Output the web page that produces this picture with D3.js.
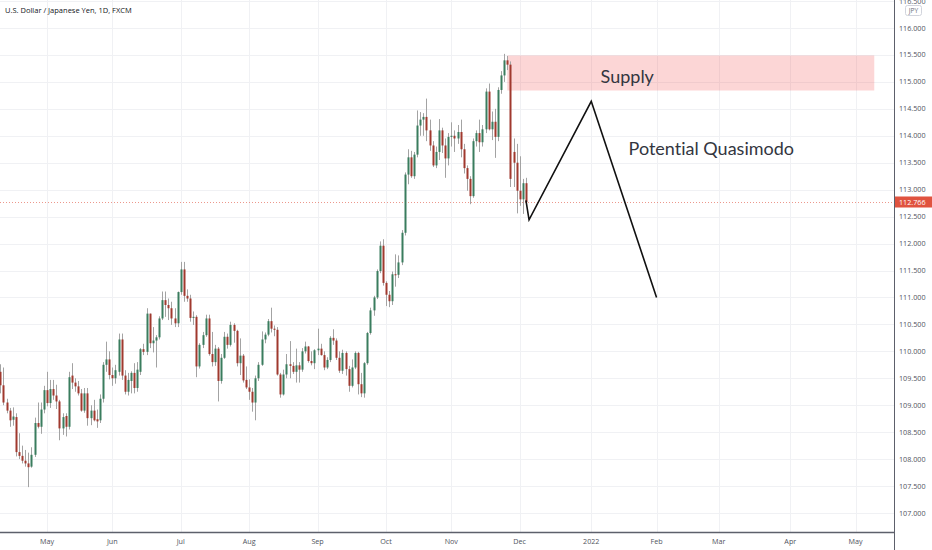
<!DOCTYPE html>
<html lang="en">
<head>
<meta charset="utf-8">
<title>USDJPY 1D</title>
<script src="https://cdn.jsdelivr.net/npm/d3@7"></script>
<style>
  body { margin: 0; background: #fff; }
  svg { display: block; font-family: "Open Sans", sans-serif; }
  text.note { font-variant-ligatures: none; font-feature-settings: "liga" 0; }
</style>
</head>
<body>
<script>
// daily candles, one row per trading day: [open, high, low, close]
var apr21 = [
  [109.62,109.76,109.22,109.37],[109.37,109.70,109.00,109.05],[109.05,109.12,108.85,108.90],
  [108.90,108.95,108.60,108.72],[108.73,108.96,108.62,108.79],[108.78,108.85,108.05,108.13],
  [108.13,108.48,108.00,108.06],[108.06,108.25,107.92,107.97],[107.97,108.17,107.86,107.92],
  [107.92,108.12,107.48,107.85],[107.86,108.22,107.84,108.08],[108.08,108.77,108.04,108.67],
  [108.67,109.05,108.57,108.60],[108.60,109.05,108.47,108.92],[108.92,109.36,108.85,109.28]
];
var may21 = [
  [109.28,109.62,108.98,109.04],[109.04,109.47,108.95,109.30],[109.30,109.47,109.10,109.18],
  [109.18,109.38,108.93,109.07],[109.07,109.10,108.35,108.57],[108.57,108.85,108.45,108.78],
  [108.80,108.85,108.42,108.60],[108.60,109.62,108.55,109.52],[109.55,109.78,109.30,109.42],
  [109.42,109.50,109.25,109.35],[109.35,109.45,109.18,109.22],[109.22,109.30,108.88,108.90],
  [108.90,109.32,108.86,109.22],[109.22,109.32,108.62,108.76],[108.76,109.00,108.63,108.90],
  [108.90,109.10,108.70,108.72],[108.74,108.92,108.58,108.70],[108.72,109.20,108.67,109.12],
  [109.12,109.80,109.05,109.75],[109.75,110.18,109.62,109.85],[109.85,110.00,109.48,109.56]
];
var jun21 = [
  [109.56,109.70,109.36,109.50],[109.50,109.75,109.40,109.65],[109.62,110.33,109.55,110.22],
  [110.22,110.33,109.47,109.55],[109.55,109.65,109.20,109.25],[109.25,109.60,109.18,109.47],
  [109.45,109.63,109.22,109.60],[109.60,109.78,109.22,109.32],[109.32,109.80,109.25,109.66],
  [109.62,110.06,109.56,110.04],[110.04,110.14,109.93,109.99],[109.99,110.80,109.93,110.70],
  [110.70,110.70,110.06,110.15],[110.15,110.45,109.98,110.20],[110.20,110.30,109.70,110.26],
  [110.26,110.65,110.22,110.61],[110.61,111.11,110.58,110.95],[110.95,111.11,110.64,110.86],
  [110.86,110.98,110.58,110.80],[110.80,110.92,110.49,110.61],[110.61,110.80,110.45,110.52],
  [110.52,111.11,110.45,111.10]
];
var jul21 = [
  [111.10,111.66,111.05,111.52],[111.52,111.66,110.92,111.03],[111.03,111.15,110.92,110.98],
  [110.98,111.05,110.55,110.62],[110.62,110.74,110.49,110.64],[110.64,110.67,109.52,109.72],
  [109.72,110.15,109.68,110.12],[110.12,110.36,110.06,110.30],[110.30,110.68,110.27,110.61],
  [110.61,110.68,109.92,109.95],[109.95,110.36,109.72,109.80],[109.80,110.12,109.73,110.05],
  [110.05,110.08,109.07,109.45],[109.45,109.95,109.40,109.88],[109.88,110.36,109.86,110.27],
  [110.27,110.33,110.05,110.12],[110.12,110.55,110.09,110.49],[110.49,110.52,110.16,110.38],
  [110.38,110.40,109.72,109.78],[109.78,110.24,109.56,109.92],[109.92,109.95,109.42,109.46],
  [109.47,109.72,109.30,109.33]
];
var aug21 = [
  [109.33,109.48,109.10,109.25],[109.25,109.32,108.88,109.05],[109.05,109.55,108.72,109.50],
  [109.50,109.80,109.45,109.75],[109.75,110.37,109.73,110.22],[110.22,110.35,110.15,110.31],
  [110.31,110.60,110.28,110.56],[110.56,110.81,110.35,110.42],[110.42,110.48,110.28,110.40],
  [110.40,110.45,109.55,109.57],[109.57,109.60,109.14,109.20],[109.20,109.66,109.18,109.57],
  [109.57,109.95,109.50,109.76],[109.76,110.19,109.50,109.73],[109.73,109.80,109.58,109.62],
  [109.62,110.05,109.42,109.74],[109.74,109.80,109.42,109.66],[109.66,110.06,109.62,110.00],
  [110.00,110.18,109.96,110.09],[110.09,110.10,109.79,109.82],[109.82,110.00,109.74,109.78],
  [109.78,110.04,109.67,110.02]
];
var sep21 = [
  [110.02,110.42,109.93,110.05],[110.05,110.14,109.92,109.93],[109.93,110.00,109.65,109.70],
  [109.70,109.89,109.67,109.84],[109.84,110.28,109.80,110.25],[110.25,110.41,110.12,110.20],
  [110.20,110.24,109.84,109.88],[109.88,110.00,109.60,109.64],[109.64,110.03,109.58,109.97],
  [109.97,110.00,109.55,109.67],[109.67,109.73,109.25,109.36],[109.36,109.85,109.33,109.70],
  [109.70,110.00,109.67,109.97],[109.97,109.99,109.20,109.39],[109.39,109.60,109.15,109.22],
  [109.22,109.80,109.14,109.78],[109.78,110.36,109.75,110.34],[110.34,110.81,110.31,110.76],
  [110.76,111.03,110.66,111.00],[111.00,111.52,110.97,111.49],[111.49,112.04,111.45,111.96],
  [111.96,112.08,111.22,111.27]
];
var oct21 = [
  [111.27,111.30,110.84,111.05],[111.05,111.12,110.82,110.93],[110.93,111.48,110.86,111.43],
  [111.43,111.80,111.20,111.42],[111.42,111.78,111.36,111.65],[111.65,112.25,111.60,112.20],
  [112.20,113.32,112.15,113.28],[113.28,113.75,113.10,113.60],[113.60,113.72,113.22,113.25],
  [113.25,113.70,113.20,113.65],[113.65,114.47,113.60,114.19],[114.19,114.44,114.00,114.30],
  [114.30,114.42,114.00,114.35],[114.35,114.69,113.90,114.10],[114.10,114.30,113.72,113.82],
  [113.82,113.90,113.42,113.45],[113.45,113.80,113.40,113.70],[113.70,114.31,113.55,114.10],
  [114.10,114.15,113.68,113.82],[113.82,113.95,113.22,113.58],[113.58,114.05,113.45,113.98]
];
var nov21 = [
  [113.98,114.25,113.80,114.00],[114.00,114.10,113.70,113.95],[113.95,114.20,113.85,114.07],
  [114.07,114.30,113.60,113.75],[113.75,113.85,113.30,113.40],[113.40,113.45,112.98,113.20],
  [113.20,113.25,112.73,112.88],[112.88,113.95,112.85,113.90],[113.90,114.10,113.80,114.05],
  [114.05,114.30,113.70,113.88],[113.88,114.20,113.80,114.12],[114.12,114.88,114.05,114.82],
  [114.82,114.97,114.10,114.12],[114.12,114.45,113.92,114.26],[114.26,114.50,113.59,113.98],
  [113.98,114.90,113.90,114.85],[114.85,115.20,114.78,115.12],[115.12,115.52,115.00,115.40],
  [115.40,115.48,115.22,115.32],[115.32,115.38,113.05,113.20],[113.70,113.95,113.05,113.50],
  [113.50,113.85,112.56,112.98]
];
var dec21 = [
  [112.98,113.62,112.70,112.82],[112.82,113.20,112.55,113.12],[113.12,113.22,112.72,112.77]
];

var priceTicks = [107, 107.5, 108, 108.5, 109, 109.5, 110, 110.5, 111, 111.5,
                  112, 112.5, 113, 113.5, 114, 114.5, 115, 115.5, 116, 116.5];
var lastPrice = 112.766;

// drawings on the chart
var supplyDates = ["2021-11-25", "2022-05-10"];
var supplyPrices = [115.49, 114.84];
var pathDates = ["2021-12-03", "2021-12-06", "2022-01-03", "2022-02-01"];
var pathPrices = [112.80, 112.44, 114.64, 111.00];
var noteTexts = ["Supply", "Potential Quasimodo"];
var noteDates = ["2022-01-06", "2022-01-19"];
var noteValues = [114.98, 113.64];

var w = 932, h = 550;
var plotRight = 894, plotBottom = 532;

var candles = [].concat(apr21, may21, jun21, jul21, aug21, sep21, oct21, nov21, dec21);

// trading days (Mon-Fri) from the first candle into the future
var parse = d3.timeParse("%Y-%m-%d");
var days = d3.timeDay.range(parse("2021-04-12"), parse("2022-06-01"))
    .filter(function (d) { return d.getDay() > 0 && d.getDay() < 6; });
var fmtKey = d3.timeFormat("%Y-%m-%d");
var dayIndex = {};
days.forEach(function (d, i) { dayIndex[fmtKey(d)] = i; });

var x = d3.scaleLinear()
    .domain([0, days.length - 1])
    .range([0.35, 0.35 + 3.11 * (days.length - 1)]);
var y = d3.scaleLinear()
    .domain([107, 116])
    .range([513, 28]);

function xd(s) { return x(dayIndex[s]); }

var svg = d3.select("body").append("svg")
    .attr("width", w)
    .attr("height", h);

svg.append("clipPath").attr("id", "plot")
    .append("rect").attr("width", plotRight).attr("height", plotBottom);

var plot = svg.append("g").attr("clip-path", "url(#plot)");

// month ticks: first trading day of each month
var months = d3.timeMonth.range(parse("2021-05-01"), parse("2022-06-01"));
var monthIdx = months.map(function (m) {
    return d3.bisector(function (d) { return d; }).left(days, m);
});
var monthFmt = function (m) { return m.getMonth() === 0 ? d3.timeFormat("%Y")(m) : d3.timeFormat("%b")(m); };

// grid
plot.selectAll("line.hgrid").data(priceTicks).enter().append("line")
    .attr("x1", 0).attr("x2", plotRight)
    .attr("y1", function (d) { return Math.round(y(d)) + 0.5; })
    .attr("y2", function (d) { return Math.round(y(d)) + 0.5; })
    .attr("stroke", "#f0f1f4");
plot.selectAll("line.vgrid").data(monthIdx).enter().append("line")
    .attr("y1", 0).attr("y2", plotBottom)
    .attr("x1", function (d) { return Math.round(x(d)) + 0.5; })
    .attr("x2", function (d) { return Math.round(x(d)) + 0.5; })
    .attr("stroke", "#f0f1f4");

// supply zone
plot.append("rect")
    .attr("x", xd(supplyDates[0]))
    .attr("y", y(supplyPrices[0]))
    .attr("width", xd(supplyDates[1]) - xd(supplyDates[0]))
    .attr("height", y(supplyPrices[1]) - y(supplyPrices[0]))
    .attr("fill", "rgba(242,68,68,0.22)");

// last price line
plot.append("line")
    .attr("x1", 0).attr("x2", plotRight)
    .attr("y1", Math.round(y(lastPrice)) + 0.5)
    .attr("y2", Math.round(y(lastPrice)) + 0.5)
    .attr("stroke", "#e0533f")
    .attr("stroke-opacity", 0.6)
    .attr("stroke-width", 1)
    .attr("stroke-dasharray", "1,2");

// candles
var bars = plot.selectAll("g.candle").data(candles).enter().append("g");
bars.append("line")
    .attr("x1", function (d, i) { return Math.round(x(i)) + 0.5; })
    .attr("x2", function (d, i) { return Math.round(x(i)) + 0.5; })
    .attr("y1", function (d) { return y(d[1]); })
    .attr("y2", function (d) { return y(d[2]); })
    .attr("stroke", "#a3a3a3");
bars.append("rect")
    .attr("x", function (d, i) { return Math.round(x(i)) - 0.5; })
    .attr("width", 2)
    .attr("y", function (d) { return y(Math.max(d[0], d[3])); })
    .attr("height", function (d) { return Math.max(1, Math.abs(y(d[0]) - y(d[3]))); })
    .attr("fill", function (d) { return d[3] >= d[0] ? "#3a7d5e" : "#a0392e"; });

// projected path
var line = d3.line()
    .x(function (d) { return xd(d[0]); })
    .y(function (d) { return y(d[1]); });
plot.append("path")
    .datum(pathDates.map(function (d, i) { return [d, pathPrices[i]]; }))
    .attr("d", line)
    .attr("fill", "none")
    .attr("stroke", "#111")
    .attr("stroke-width", 1.6);

// notes
plot.selectAll("text.note").data(noteTexts).enter().append("text")
    .attr("class", "note")
    .attr("x", function (d, i) { return xd(noteDates[i]); })
    .attr("y", function (d, i) { return y(noteValues[i]); })
    .attr("font-family", "Lato, sans-serif")
    .attr("font-size", "18px")
    .attr("fill", "#33363f")
    .text(function (d) { return d; });

// title
svg.append("text")
    .attr("x", 5).attr("y", 13)
    .attr("font-size", "7.5px")
    .attr("fill", "#131722")
    .text("U.S. Dollar / Japanese Yen, 1D, FXCM");

// axes
svg.append("line")
    .attr("x1", plotRight + 0.5).attr("x2", plotRight + 0.5)
    .attr("y1", 0).attr("y2", h)
    .attr("stroke", "#5d606b");
svg.append("line")
    .attr("x1", 0).attr("x2", plotRight)
    .attr("y1", plotBottom + 0.5).attr("y2", plotBottom + 0.5)
    .attr("stroke", "#5d606b")
    .attr("stroke-width", 1.5);

svg.selectAll("text.ytick").data(priceTicks).enter().append("text")
    .attr("x", 899)
    .attr("y", function (d) { return y(d); })
    .attr("dy", "0.35em")
    .attr("font-size", "7.2px")
    .attr("fill", "#50535e")
    .text(d3.format(".3f"));

svg.selectAll("text.xtick").data(monthIdx).enter().append("text")
    .attr("x", function (d) { return x(d); })
    .attr("y", 544)
    .attr("text-anchor", "middle")
    .attr("font-size", "7.2px")
    .attr("fill", "#50535e")
    .text(function (d, i) { return monthFmt(months[i]); });

// currency badge
svg.append("rect")
    .attr("x", 905.5).attr("y", 5.5).attr("width", 16).attr("height", 10).attr("rx", 2)
    .attr("fill", "#fff").attr("stroke", "#d1d4dc");
svg.append("text")
    .attr("x", 913.5).attr("y", 13)
    .attr("text-anchor", "middle")
    .attr("font-size", "6.5px")
    .attr("fill", "#6a6d78")
    .text("JPY");

// last price label
svg.append("rect")
    .attr("x", plotRight + 1).attr("y", Math.round(y(lastPrice)) - 5.5)
    .attr("width", w - plotRight - 1).attr("height", 11)
    .attr("fill", "#e0533f");
svg.append("text")
    .attr("x", 899).attr("y", y(lastPrice))
    .attr("dy", "0.35em")
    .attr("font-size", "7.2px")
    .attr("fill", "#fff")
    .text(d3.format(".3f")(lastPrice));
</script>
</body>
</html>
